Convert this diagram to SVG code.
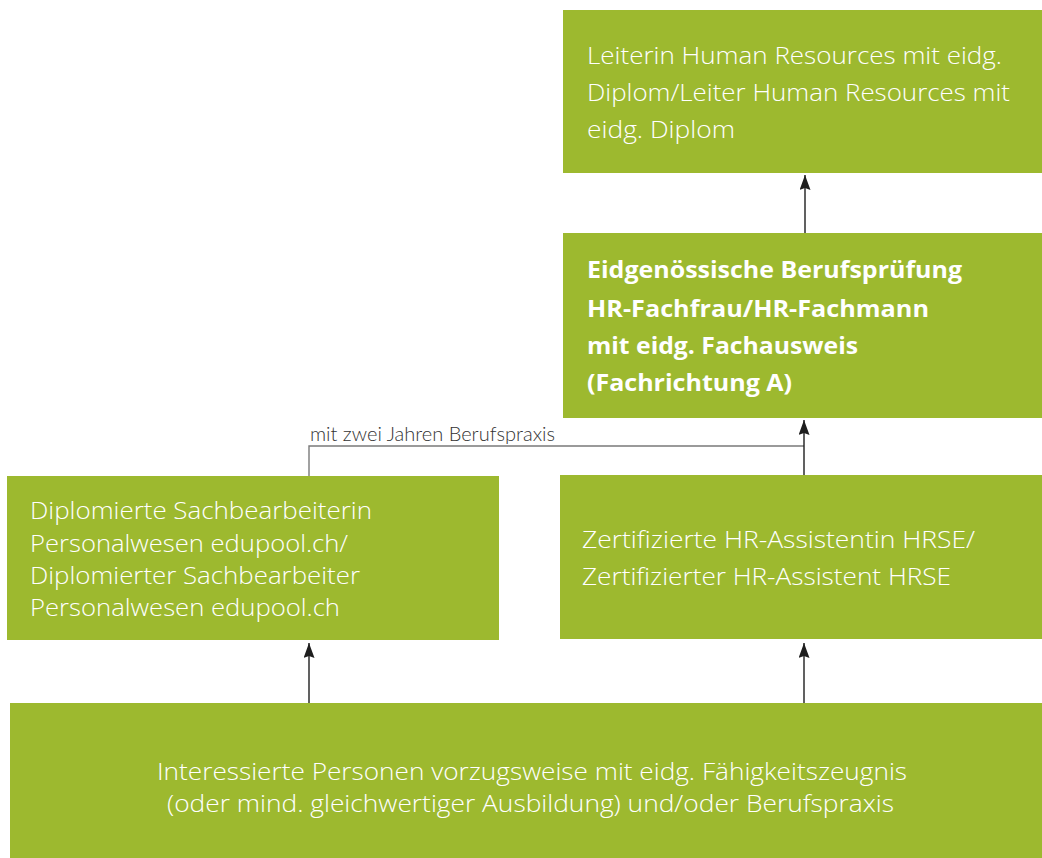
<svg xmlns="http://www.w3.org/2000/svg" width="1042" height="858" viewBox="0 0 1042 858">
<style>
.box{fill:#9DB92F}
.t{font-family:"Open Sans","Noto Sans","Liberation Sans",sans-serif;font-size:24px;font-weight:300;fill:#FFFFFF}
.b{font-family:"Open Sans","Noto Sans","Liberation Sans",sans-serif;font-size:23px;font-weight:700;fill:#FFFFFF}
.lbl{font-family:Lato,"Open Sans","Liberation Sans",sans-serif;font-size:19.5px;font-weight:300;fill:#333333}
.arr{fill:none;stroke:#1E1E1E;stroke-width:1.4}
.gl{fill:none;stroke:#7A7A7A;stroke-width:1.4}
</style>
<defs>
<marker id="ah" markerUnits="userSpaceOnUse" markerWidth="15" markerHeight="11" refX="15" refY="5.5" orient="auto">
<path d="M0,0 L15,5.5 L0,11 L2,5.5 z" fill="#1E1E1E"/>
</marker>
</defs>
<rect width="1042" height="858" fill="#FFFFFF"/>
<g id="connectors">
<path class="gl" d="M309,476 V446 H804"/>
<line class="arr" x1="805" y1="233" x2="805" y2="175" marker-end="url(#ah)"/>
<line class="arr" x1="804" y1="475" x2="804" y2="420" marker-end="url(#ah)"/>
<line class="arr" x1="309" y1="703" x2="309" y2="643" marker-end="url(#ah)"/>
<line class="arr" x1="804" y1="703" x2="804" y2="643" marker-end="url(#ah)"/>
<text class="lbl" x="310" y="441" textLength="245" lengthAdjust="spacingAndGlyphs">mit zwei Jahren Berufspraxis</text>
</g>
<g id="node-leiter">
<rect class="box" x="563" y="10" width="479" height="163"/>
<text class="t" x="587" y="64" textLength="415" lengthAdjust="spacingAndGlyphs">Leiterin Human Resources mit eidg.</text>
<text class="t" x="587" y="101" textLength="423" lengthAdjust="spacingAndGlyphs">Diplom/Leiter Human Resources mit</text>
<text class="t" x="587" y="138" textLength="148" lengthAdjust="spacingAndGlyphs">eidg. Diplom</text>
</g>
<g id="node-berufspruefung">
<rect class="box" x="563" y="233" width="479" height="185"/>
<text class="b" x="587" y="278" textLength="375" lengthAdjust="spacingAndGlyphs">Eidgenössische Berufsprüfung</text>
<text class="b" x="587" y="317" textLength="342" lengthAdjust="spacingAndGlyphs">HR-Fachfrau/HR-Fachmann</text>
<text class="b" x="587" y="354" textLength="271" lengthAdjust="spacingAndGlyphs">mit eidg. Fachausweis</text>
<text class="b" x="587" y="391" textLength="205" lengthAdjust="spacingAndGlyphs">(Fachrichtung A)</text>
</g>
<g id="node-sachbearbeiter">
<rect class="box" x="7" y="476" width="492" height="164"/>
<text class="t" x="30" y="519" textLength="342" lengthAdjust="spacingAndGlyphs">Diplomierte Sachbearbeiterin</text>
<text class="t" x="30" y="552" textLength="318" lengthAdjust="spacingAndGlyphs">Personalwesen edupool.ch/</text>
<text class="t" x="30" y="584" textLength="330" lengthAdjust="spacingAndGlyphs">Diplomierter Sachbearbeiter</text>
<text class="t" x="30" y="616" textLength="310" lengthAdjust="spacingAndGlyphs">Personalwesen edupool.ch</text>
</g>
<g id="node-hr-assistent">
<rect class="box" x="560" y="475" width="482" height="164"/>
<text class="t" x="582" y="548" textLength="393" lengthAdjust="spacingAndGlyphs">Zertifizierte HR-Assistentin HRSE/</text>
<text class="t" x="582" y="585" textLength="369" lengthAdjust="spacingAndGlyphs">Zertifizierter HR-Assistent HRSE</text>
</g>
<g id="node-interessierte">
<rect class="box" x="10" y="703" width="1032" height="155"/>
<text class="t" x="157" y="780" textLength="750" lengthAdjust="spacingAndGlyphs">Interessierte Personen vorzugsweise mit eidg. Fähigkeitszeugnis</text>
<text class="t" x="167" y="812" textLength="727" lengthAdjust="spacingAndGlyphs">(oder mind. gleichwertiger Ausbildung) und/oder Berufspraxis</text>
</g>
</svg>
